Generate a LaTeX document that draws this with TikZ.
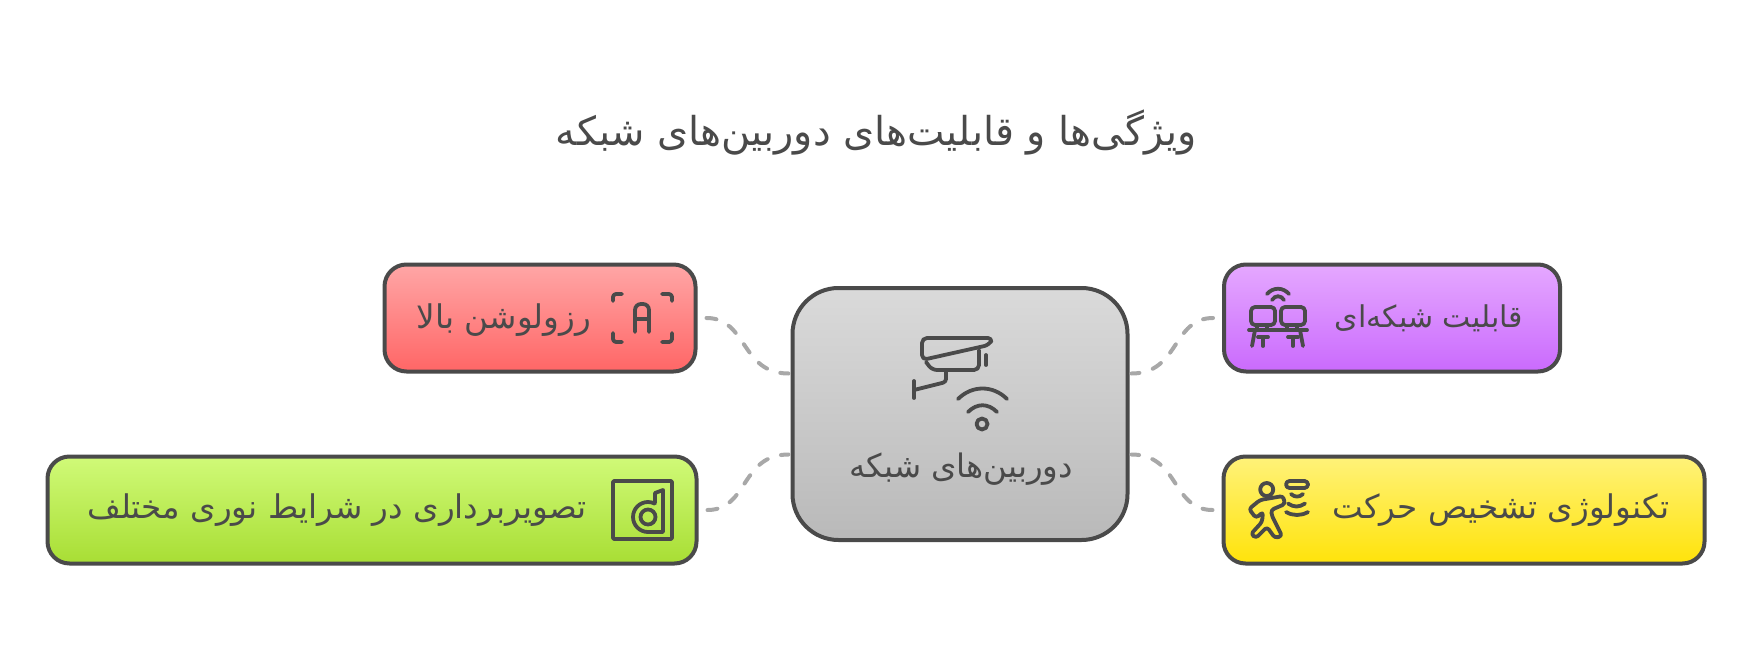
\documentclass[tikz,border=0pt]{standalone}
\usepackage{fontspec}
\newfontfamily\arabicfont[Script=Arabic]{DejaVu Sans}
\TeXXeTstate=1
\newcommand{\fatext}[1]{\arabicfont\beginR #1\endR}
\definecolor{inkgray}{HTML}{4A4A4A}
\definecolor{linkgray}{HTML}{A8A8A8}
\definecolor{camtop}{HTML}{DADADA}
\definecolor{cambot}{HTML}{B9B9B9}
\definecolor{redtop}{HTML}{FFA6A6}
\definecolor{redbot}{HTML}{FF6666}
\definecolor{greentop}{HTML}{D0FA78}
\definecolor{greenbot}{HTML}{A8DE34}
\definecolor{purpletop}{HTML}{E5A8FF}
\definecolor{purplebot}{HTML}{CA6AFD}
\definecolor{yellowtop}{HTML}{FFF27A}
\definecolor{yellowbot}{HTML}{FFE30A}
\tikzset{
  boxnode/.style={draw=inkgray,line width=4pt,rounded corners=22pt,inner sep=0pt,minimum width=#1,minimum height=107pt},
  label/.style={inner sep=0pt,text=inkgray,font=\fontsize{#1}{#1}\selectfont},
  link/.style={draw=linkgray,line width=4pt,line cap=round,dash pattern=on 10pt off 14pt,shorten >=2pt},
  icon/.style={draw=inkgray,line width=3.8pt,line cap=round,line join=round}
}
\begin{document}
\begin{tikzpicture}[x=1pt,y=-1pt]
\useasboundingbox (0,0) rectangle (1752,660);
\node[boxnode=335pt,minimum height=252pt,rounded corners=46pt,top color=camtop,bottom color=cambot] (camera) at (960,414) {};
\node[boxnode=311pt,top color=redtop,bottom color=redbot] (red) at (540,318) {};
\node[boxnode=649pt,top color=greentop,bottom color=greenbot] (green) at (372,510) {};
\node[boxnode=336pt,top color=purpletop,bottom color=purplebot] (purple) at (1392,318) {};
\node[boxnode=481pt,top color=yellowtop,bottom color=yellowbot] (yellow) at (1464,510) {};
\node[label=39.8] (title) at (876,133) {\fatext{ویژگی‌ها و قابلیت‌های دوربین‌های شبکه}};
\node[label=32.4] (camtext) at (961,469) {\fatext{دوربین‌های شبکه}};
\node[label=32.6] (redtext) at (504,320) {\fatext{رزولوشن بالا}};
\node[label=32.6] (greentext) at (337,510) {\fatext{تصویربرداری در شرایط نوری مختلف}};
\node[label=30] (purpletext) at (1429,318) {\fatext{قابلیت شبکه‌ای}};
\node[label=32.6] (yellowtext) at (1501,510) {\fatext{تکنولوژی تشخیص حرکت}};
\draw[link,shorten <=9pt] (red.east) .. controls +(50,0) and +(-50,0) .. (camera.west|-red.south);
\draw[link,shorten <=9pt] (green.east) .. controls +(50,0) and +(-50,0) .. (camera.west|-green.north);
\draw[link,shorten <=9pt] (purple.west) .. controls +(-50,0) and +(50,0) .. (camera.east|-purple.south);
\draw[link,shorten <=9pt] (yellow.west) .. controls +(-50,0) and +(50,0) .. (camera.east|-yellow.north);
\draw[icon,rounded corners=5pt] (993,338) -- (922,338) -- (922,360) -- (989,345) -- cycle;
\draw[icon,rounded corners=5pt] (926,362) -- (932,370) -- (979,370) -- (979,350);
\draw[icon] (986,355) -- (986,365);
\draw[icon,rounded corners=3pt] (946,370) -- (946,382) -- (914,390);
\draw[icon] (914,381) -- (914,398);
\draw[icon] (958,399) .. controls (972,385) and (993,385) .. (1007,399);
\draw[icon] (968,412) .. controls (977,403) and (988,403) .. (997,412);
\draw[icon] (982,424) circle (5.5pt);
\draw[icon,rounded corners=3pt] (613,301) -- (613,294) -- (622,294);
\draw[icon,rounded corners=3pt] (662,294) -- (672,294) -- (672,301);
\draw[icon,rounded corners=3pt] (613,333) -- (613,342) -- (622,342);
\draw[icon,rounded corners=3pt] (662,342) -- (672,342) -- (672,333);
\draw[icon,rounded corners=6pt] (635,332) -- (635,304) -- (649,304) -- (649,332);
\draw[icon] (635,319) -- (649,319);
\draw[icon,rounded corners=1pt] (613,481) rectangle (672,539);
\draw[icon] (648,517) circle (7.5pt);
\draw[icon] (655,503) -- (655,493) -- (663,490) -- (663,532) -- (648,532) arc (270:63:15pt);
\draw[icon,rounded corners=4pt] (1251,307) rectangle (1275,325);
\draw[icon,rounded corners=4pt] (1281,307) rectangle (1305,325);
\draw[icon] (1249,330) -- (1307,330);
\foreach \xx in {1257,1267,1287,1297} \draw[icon] (\xx,325) -- (\xx,330);
\draw[icon] (1255,330) -- (1252,346);
\draw[icon] (1300,330) -- (1303,346);
\draw[icon] (1258,337) -- (1268,337);
\draw[icon] (1263,337) -- (1263,346);
\draw[icon] (1288,337) -- (1298,337);
\draw[icon] (1293,337) -- (1293,346);
\draw[icon] (1267,294) .. controls (1273,287) and (1283,287) .. (1289,294);
\draw[icon] (1272,300) .. controls (1275,295) and (1281,295) .. (1284,300);
\draw[icon] (1266.7,489.5) circle (6.5pt);
\draw[icon,rounded corners=3pt] (1283,496) -- (1260,500) -- (1249,509) -- (1256,518) -- (1263,512) -- (1262,522) -- (1251,534) -- (1256,538) -- (1267,527) -- (1275,538) -- (1282,536) -- (1272,516) -- (1271,510) -- (1285,504) -- cycle;
\draw[icon,rounded corners=3.5pt] (1286,481) rectangle (1308,488);
\draw[icon] (1291,494) .. controls (1295,497.5) and (1299,497.5) .. (1303,494);
\draw[icon] (1288,503.5) .. controls (1294,507.5) and (1299,507.5) .. (1305,503.5);
\draw[icon] (1286,512) .. controls (1293,516) and (1301,516) .. (1308,512);
\end{tikzpicture}
\end{document}
